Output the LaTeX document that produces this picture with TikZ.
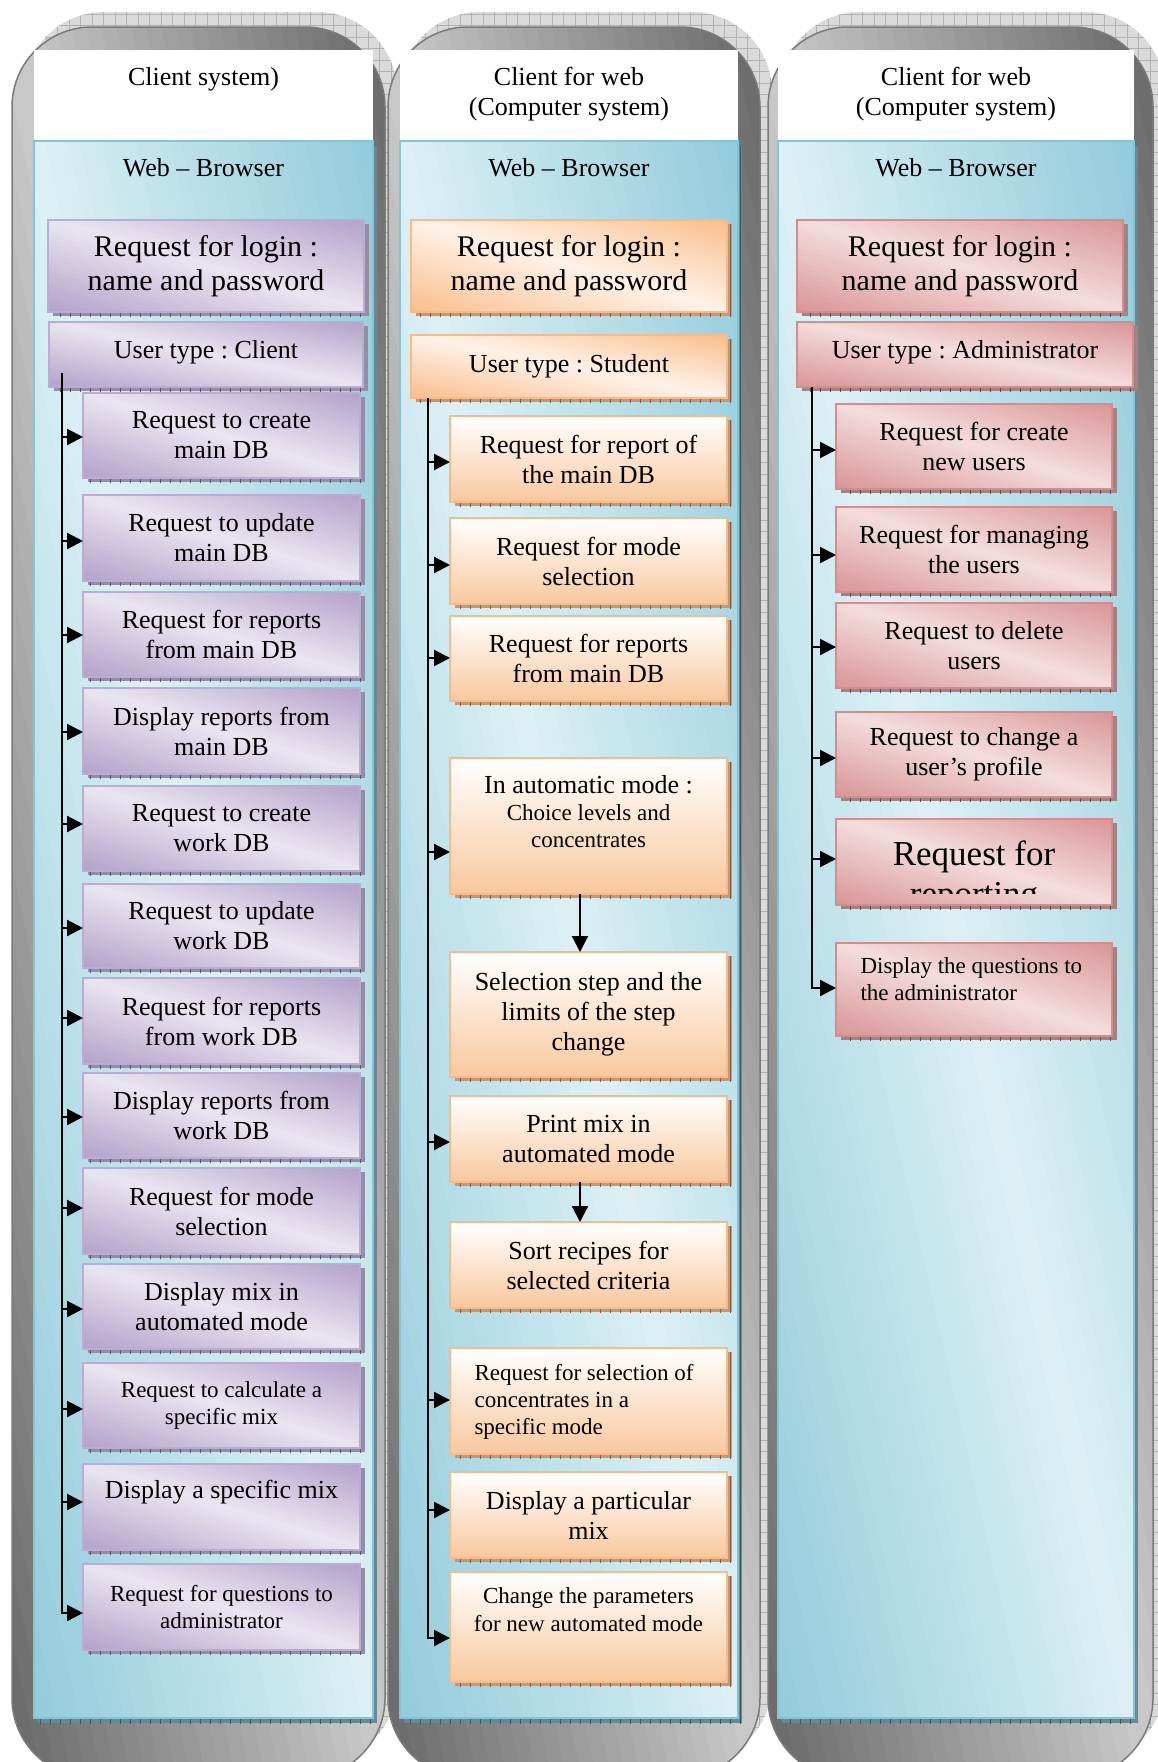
\documentclass[tikz,border=0pt]{standalone}
\usepackage{fontspec}
\setmainfont{Liberation Serif}
\frenchspacing
\usetikzlibrary{arrows.meta,patterns.meta}

\definecolor{pL}{HTML}{EAE5F1}
\definecolor{pD}{HTML}{B3A1CA}
\definecolor{pbd}{HTML}{BBADD2}
\definecolor{pshd}{HTML}{948DA6}
\definecolor{ptick}{HTML}{5C566C}
\definecolor{oL}{HTML}{FFF2E8}
\definecolor{oD}{HTML}{F9BE8C}
\definecolor{oV}{HTML}{F9C89E}
\definecolor{obd}{HTML}{F8BA88}
\definecolor{oshd}{HTML}{C29876}
\definecolor{otick}{HTML}{8A5C3C}
\definecolor{rL}{HTML}{F4DDDE}
\definecolor{rD}{HTML}{D99596}
\definecolor{rbd}{HTML}{D68C8D}
\definecolor{rshd}{HTML}{A08485}
\definecolor{rtick}{HTML}{684A4B}
\definecolor{bL}{HTML}{DCF0F5}
\definecolor{bD}{HTML}{92CBDB}
\definecolor{bbd}{HTML}{84C4D5}
\definecolor{bshd}{HTML}{6A8893}
\definecolor{btick}{HTML}{3C5761}
\definecolor{gL}{HTML}{CACACA}
\definecolor{gD}{HTML}{676767}
\definecolor{gOut}{HTML}{7A7A7A}
\definecolor{hatchBg}{HTML}{DADADA}
\definecolor{hatchLn}{HTML}{B2B2B2}

% diagonal gradient: light along the UL-LR diagonal, dark at UR and LL corners
\newcommand\dgr[8]{%
  \begin{scope}
    \clip[#8] (#1,#2) rectangle (#3,#4);
    \pgfmathsetmacro\dgrW{#3-#1}
    \foreach \dgrI in {1,...,#7}{%
      \pgfmathsetmacro\dgrA{-1+2*(\dgrI-1)/#7}
      \pgfmathsetmacro\dgrB{\dgrA+2/#7+0.015}
      \pgfmathtruncatemacro\dgrM{round(100*abs(\dgrA+1/#7))}
      \fill[#6!\dgrM!#5] ({#1+\dgrW*(\dgrA)},#2) -- ({#1+\dgrW*(\dgrA+1)},#4)
        -- ({#1+\dgrW*(\dgrB+1)},#4) -- ({#1+\dgrW*(\dgrB)},#2) -- cycle;
    }
  \end{scope}}

\newcommand\capsule[4]{%
  \fill[hatchBg,rounded corners=80pt,shift={(12,-15)}] (#1,#2) rectangle (#3,#4);
  \fill[pattern={Hatch[distance=11.5pt,line width=0.8pt]},pattern color=hatchLn,rounded corners=80pt,shift={(12,-15)}] (#1,#2) rectangle (#3,#4);
  \dgr{#1}{#2}{#3}{#4}{gL}{gD}{50}{rounded corners=80pt}
  \draw[gOut,line width=1.5pt,rounded corners=80pt] (#1,#2) rectangle (#3,#4);}

\newcommand\panel[4]{%
  \fill[bshd,shift={(4,5)}] (#1,#2) rectangle (#3,#4);
  \fill[pattern={Lines[angle=90,distance=10pt,line width=1pt]},pattern color=btick,shift={(4,5)}] (#1,#2) rectangle (#3,#4);
  \dgr{#1}{#2}{#3}{#4}{bL}{bD}{60}{sharp corners}
  \draw[bbd,line width=1.5pt] (#1,#2) rectangle (#3,#4);}

% #1 prefix #2 d/v #3 x0 #4 y0 #5 x1 #6 y1 #7 name #8 style #9 text
\newcommand\mkbox[9]{%
  \fill[#1shd,shift={(5,4)}] (#3,#4) rectangle (#5,#6);
  \fill[pattern={Lines[angle=90,distance=10pt,line width=1pt]},pattern color=#1tick,shift={(5,4)}] (#3,#4) rectangle (#5,#6);
  \ifx d#2\dgr{#3}{#4}{#5}{#6}{#1L}{#1D}{40}{sharp corners}%
  \else\shade[top color=white,bottom color=#1V] (#3,#4) rectangle (#5,#6);\fi
  \draw[#1bd,line width=2pt] (#3,#4) rectangle (#5,#6);
  \pgfmathsetmacro\bxW{#5-#3}%
  \pgfmathsetmacro\bxH{#6-#4}%
  \node[minimum width=\bxW pt,minimum height=\bxH pt,inner sep=0pt,outer sep=0pt,align=center,#8]
    (#7) at ({(#3+#5)/2},{(#4+#6)/2}) {#9};}

\tikzset{
  f26/.style={font=\fontsize{26}{30}\selectfont},
  f23/.style={font=\fontsize{23}{27}\selectfont},
  f30/.style={font=\fontsize{30}{34}\selectfont},
  f35/.style={font=\fontsize{35}{40}\selectfont},
  conn/.style={line width=2.2pt,-{Triangle[length=16pt,width=16pt]}},
}

\begin{document}
\begin{tikzpicture}[x=1pt,y=-1pt]
\useasboundingbox (0,0) rectangle (1157,1762);
\fill[white] (0,0) rectangle (1157,1762);

% ---------------- column 1 ----------------
\capsule{12}{27}{385}{1778}
\fill[white] (34,50) rectangle (373,141);
\panel{34}{141}{373}{1718}
\node[f26,anchor=base] (h1) at (203.5,85) {Client system)};
\node[f26,anchor=base] (w1) at (203.5,176) {Web – Browser};
\mkbox{p}{d}{48}{220}{364}{312}{l1}{f30}{Request for login :\\name and password}
\mkbox{p}{d}{49}{322}{363}{387}{u1}{f26,yshift=2pt}{User type : Client}
\mkbox{p}{d}{83}{393}{360}{478}{a1}{f26}{Request to create\\main DB}
\mkbox{p}{d}{83}{495}{360}{581}{a2}{f26}{Request to update\\main DB}
\mkbox{p}{d}{83}{592}{360}{677}{a3}{f26}{Request for reports\\from main DB}
\mkbox{p}{d}{83}{688}{360}{774}{a4}{f26}{Display reports from\\main DB}
\mkbox{p}{d}{83}{786}{360}{871}{a5}{f26}{Request to create\\work DB}
\mkbox{p}{d}{83}{884}{360}{968}{a6}{f26}{Request to update\\work DB}
\mkbox{p}{d}{83}{978}{360}{1064}{a7}{f26}{Request for reports\\from work DB}
\mkbox{p}{d}{83}{1073}{360}{1158}{a8}{f26}{Display reports from\\work DB}
\mkbox{p}{d}{83}{1168}{360}{1254}{a9}{f26}{Request for mode\\selection}
\mkbox{p}{d}{83}{1264}{360}{1349}{a10}{f26}{Display mix in\\automated mode}
\mkbox{p}{d}{83}{1363}{360}{1448}{a11}{f23}{Request to calculate a\\specific mix}
\mkbox{p}{d}{83}{1464}{360}{1550}{a12}{}{}
\node[f26,anchor=base] (t12) at (221.5,1498) {Display a specific mix};
\mkbox{p}{d}{83}{1564}{360}{1650}{a13}{f23}{Request for questions to\\administrator}

\coordinate (k0) at (62,373);
\foreach \nm/\yy in {1/437,2/541,3/635,4/732,5/824,6/928,7/1018,8/1117,9/1208,10/1309,11/1409,12/1502}{
  \coordinate (k\nm) at (62,\yy);
  \draw[conn] (k\nm) -- (k\nm -| a\nm.west);
}
\coordinate (k13) at (62,1613);
\draw[conn] (k0) -- (k13) -- (k13 -| a13.west);

% ---------------- column 2 ----------------
\capsule{388}{27}{760}{1778}
\fill[white] (400,50) rectangle (738,141);
\panel{400}{141}{738}{1718}
\node[f26,anchor=base] (h2a) at (569,85) {Client for web};
\node[f26,anchor=base] (h2b) at (569,115) {(Computer system)};
\node[f26,anchor=base] (w2) at (569,176) {Web – Browser};
\mkbox{o}{d}{411}{220}{727}{312}{l2}{f30}{Request for login :\\name and password}
\mkbox{o}{d}{411}{335}{727}{398}{u2}{f26}{User type : Student}
\mkbox{o}{v}{450}{416}{727}{502}{s1}{f26}{Request for report of\\the main DB}
\mkbox{o}{v}{450}{518}{727}{604}{s2}{f26}{Request for mode\\selection}
\mkbox{o}{v}{450}{616}{727}{701}{s3}{f26}{Request for reports\\from main DB}
\mkbox{o}{v}{450}{758}{727}{894}{s4}{}{}
\node[f26,anchor=base] (t4a) at (588.5,793) {In automatic mode :};
\node[f23,anchor=base] (t4b) at (588.5,820) {Choice levels and};
\node[f23,anchor=base] (t4c) at (588.5,847) {concentrates};
\mkbox{o}{v}{450}{952}{727}{1077}{s5}{f26}{Selection step and the\\limits of the step\\change}
\mkbox{o}{v}{450}{1096}{727}{1182}{s6}{f26}{Print mix in\\automated mode}
\mkbox{o}{v}{450}{1222}{727}{1308}{s7}{f26}{Sort recipes for\\selected criteria}
\mkbox{o}{v}{450}{1348}{727}{1454}{s8}{}{}
\node[f23,anchor=base west] (t8a) at (471,1380) {Request for selection of};
\node[f23,anchor=base west] (t8b) at (471,1407) {concentrates in a};
\node[f23,anchor=base west] (t8c) at (471,1434) {specific mode};
\mkbox{o}{v}{450}{1472}{727}{1558}{s9}{f26}{Display a particular\\mix}
\mkbox{o}{v}{450}{1572}{727}{1682}{s10}{}{}
\node[f23,anchor=base] (t10a) at (588.5,1603) {Change the parameters};
\node[f23,anchor=base] (t10b) at (588.5,1631) {for new automated mode};

\coordinate (q0) at (428,398);
\foreach \nm/\yy in {1/462,2/565,3/658,4/852,6/1142,8/1400,9/1510}{
  \coordinate (q\nm) at (428,\yy);
  \draw[conn] (q\nm) -- (q\nm -| s\nm.west);
}
\coordinate (q10) at (428,1638);
\draw[conn] (q0) -- (q10) -- (q10 -| s10.west);
\coordinate (vx) at (580,0);
\draw[conn] (s4.south -| vx) -- (s5.north -| vx);
\draw[conn] (s6.south -| vx) -- (s7.north -| vx);

% ---------------- column 3 ----------------
\capsule{768}{27}{1153}{1778}
\fill[white] (778,50) rectangle (1134,141);
\panel{778}{141}{1134}{1718}
\node[f26,anchor=base] (h3a) at (956,85) {Client for web};
\node[f26,anchor=base] (h3b) at (956,115) {(Computer system)};
\node[f26,anchor=base] (w3) at (956,176) {Web – Browser};
\mkbox{r}{d}{797}{220}{1123}{312}{l3}{f30}{Request for login :\\name and password}
\mkbox{r}{d}{797}{322}{1133}{387}{u3}{f26,yshift=2pt}{User type : Administrator}
\mkbox{r}{d}{836}{404}{1112}{489}{m1}{f26}{Request for create\\new users}
\mkbox{r}{d}{836}{507}{1112}{592}{m2}{f26}{Request for managing\\the users}
\mkbox{r}{d}{836}{603}{1112}{688}{m3}{f26}{Request to delete\\users}
\mkbox{r}{d}{836}{712}{1112}{797}{m4}{f26}{Request to change a\\user’s profile}
\mkbox{r}{d}{836}{819}{1112}{905}{m5}{}{}
\begin{scope}
  \clip (836,819) rectangle (1112,893);
  \node[f35,anchor=base] (t5a) at (974,865) {Request for};
  \node[f35,anchor=base] (t5b) at (974,905) {reporting};
\end{scope}
\mkbox{r}{d}{836}{943}{1112}{1036}{m6}{}{}
\node[f23,anchor=base west] (t6a) at (857,973) {Display the questions to};
\node[f23,anchor=base west] (t6b) at (857,1000) {the administrator};

\coordinate (r0) at (812,387);
\foreach \nm/\yy in {1/450,2/555,3/647,4/758,5/859}{
  \coordinate (r\nm) at (812,\yy);
  \draw[conn] (r\nm) -- (r\nm -| m\nm.west);
}
\coordinate (r6) at (812,988);
\draw[conn] (r0) -- (r6) -- (r6 -| m6.west);
\end{tikzpicture}
\end{document}
